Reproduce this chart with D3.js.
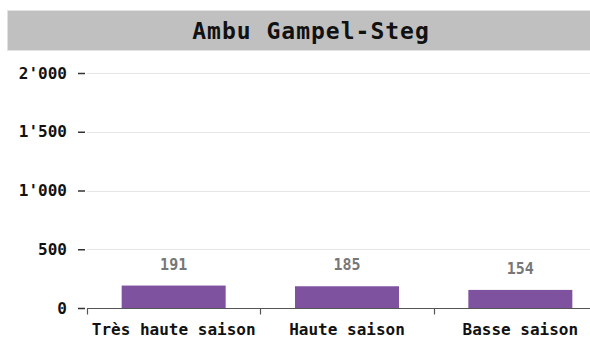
<!DOCTYPE html>
<html>
<head>
<meta charset="utf-8">
<script src="https://cdn.jsdelivr.net/npm/d3@7"></script>
<style>
  html, body { margin: 0; padding: 0; background: #fff; }
  svg { display: block; }
  text { font-family: "DejaVu Sans Mono", monospace; font-weight: bold; }
</style>
</head>
<body>
<svg id="chart" width="590" height="338"></svg>
<script>
const title = "Ambu Gampel-Steg";
const categories = ["Très haute saison", "Haute saison", "Basse saison"];
const values = [191, 185, 154];
const yTicks = [0, 500, 1000, 1500, 2000];

const W = 590, H = 338;
const margin = { left: 87, right: -17, top: 73, bottom: 30 };
const svg = d3.select("#chart");

// title banner
svg.append("rect")
  .attr("x", 7.5).attr("y", 10.5)
  .attr("width", 600).attr("height", 40)
  .attr("fill", "#c0c0c0").attr("stroke", "#e2e2e2");
svg.append("text")
  .attr("x", 311).attr("y", 31)
  .attr("text-anchor", "middle").attr("dominant-baseline", "central")
  .attr("font-size", 23).attr("letter-spacing", 1).attr("fill", "#111")
  .text(title);

const x = d3.scaleBand()
  .domain(categories)
  .range([margin.left, W - margin.right])
  .paddingInner(0.4).paddingOuter(0.2);

const y = d3.scaleLinear()
  .domain([0, 2000])
  .range([H - margin.bottom, margin.top]);

const fmt = v => d3.format(",")(v).replace(/,/g, "'");

// horizontal grid
svg.append("g")
  .selectAll("line")
  .data(yTicks.filter(d => d > 0))
  .join("line")
  .attr("x1", margin.left).attr("x2", W)
  .attr("y1", d => Math.round(y(d)) + 0.5).attr("y2", d => Math.round(y(d)) + 0.5)
  .attr("stroke", "#e6e6e6");

// y axis: short dashes and labels, no domain line
const yAxis = svg.append("g")
  .attr("transform", `translate(${margin.left - 2},0)`)
  .call(d3.axisLeft(y).tickValues(yTicks).tickFormat(fmt).tickSize(7).tickPadding(11));
yAxis.select(".domain").remove();
yAxis.selectAll(".tick line").attr("stroke", "#333").attr("stroke-width", 1.5)
  .attr("x2", -7).attr("x1", 0);
yAxis.selectAll(".tick text")
  .attr("font-family", "'DejaVu Sans Mono', monospace")
  .attr("font-weight", "bold").attr("font-size", 16).attr("fill", "#111");

// bars
svg.append("g")
  .selectAll("rect")
  .data(values)
  .join("rect")
  .attr("x", (d, i) => x(categories[i]))
  .attr("y", d => y(d))
  .attr("width", x.bandwidth())
  .attr("height", d => y(0) - y(d))
  .attr("fill", "#7f529f");

// value labels
svg.append("g")
  .selectAll("text")
  .data(values)
  .join("text")
  .attr("x", (d, i) => x(categories[i]) + x.bandwidth() / 2)
  .attr("y", d => y(d) - 16)
  .attr("text-anchor", "middle")
  .attr("font-size", 15).attr("fill", "#777")
  .text(d => d);

// x axis baseline with boundary ticks
const base = Math.round(y(0)) + 0.5;
svg.append("line")
  .attr("x1", margin.left).attr("x2", W)
  .attr("y1", base).attr("y2", base)
  .attr("stroke", "#555").attr("stroke-width", 1.2);
const edges = [margin.left].concat(categories.slice(1).map(c => x(c) - x.step() * x.paddingInner() / 2));
svg.append("g")
  .selectAll("line")
  .data(edges)
  .join("line")
  .attr("x1", d => Math.round(d) + 0.5).attr("x2", d => Math.round(d) + 0.5)
  .attr("y1", base).attr("y2", base + 6)
  .attr("stroke", "#555").attr("stroke-width", 1.2);

svg.append("g")
  .selectAll("text")
  .data(categories)
  .join("text")
  .attr("x", d => x(d) + x.bandwidth() / 2)
  .attr("y", 329)
  .attr("text-anchor", "middle")
  .attr("dominant-baseline", "central")
  .attr("font-size", 16).attr("fill", "#111")
  .text(d => d);
</script>
</body>
</html>
